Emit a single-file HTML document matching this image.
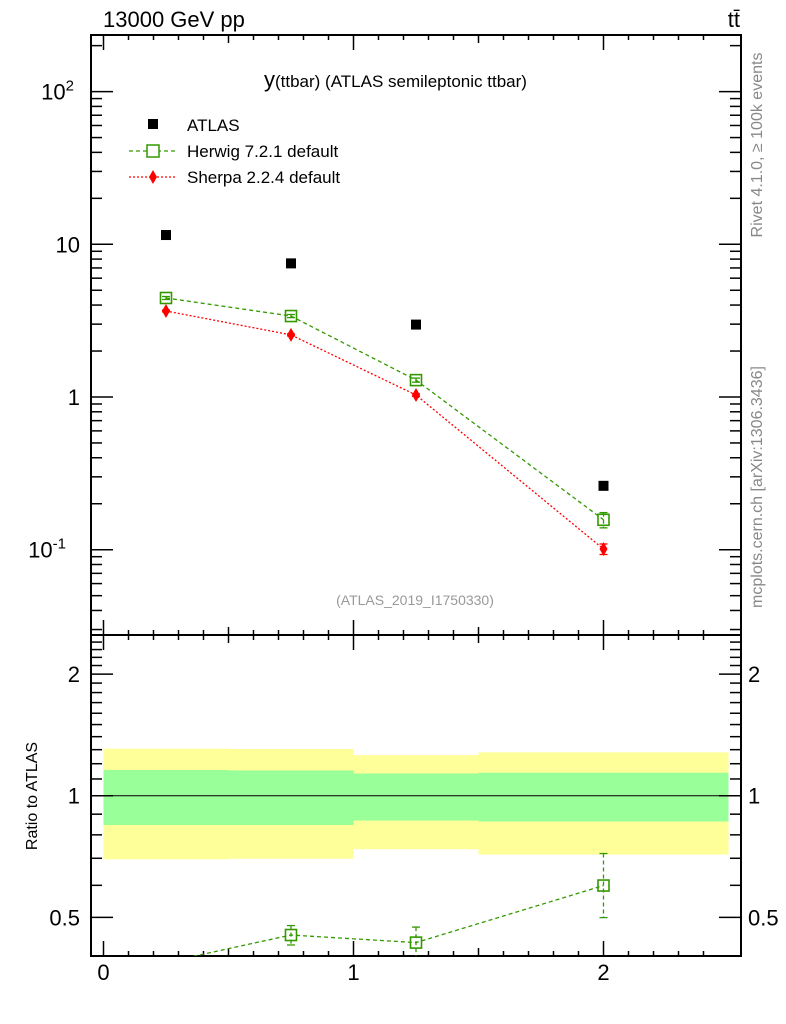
<!DOCTYPE html>
<html><head><meta charset="utf-8"><style>
body{margin:0;background:#fff;}
svg{display:block;font-family:"Liberation Sans",sans-serif;}
</style></head><body>
<svg id="chart" width="786" height="1024" viewBox="0 0 786 1024"></svg>
<script>
// ---- data ----
const binEdges = [0, 0.5, 1, 1.5, 2.5];
const binCenters = [0.25, 0.75, 1.25, 2.0];
const atlasVals = [11.5, 7.5, 2.98, 0.262];
const herwigVals = [4.45, 3.39, 1.29, 0.157];
const herwigErrUp = [0.1, 0.08, 0.04, 0.018];
const herwigErrDn = [0.1, 0.08, 0.04, 0.018];
const sherpaVals = [3.66, 2.55, 1.03, 0.101];
const sherpaErrUp = [0.05, 0.04, 0.02, 0.008];
const sherpaErrDn = [0.05, 0.04, 0.02, 0.008];
const bandYellowUp = [1.307, 1.305, 1.26, 1.28];
const bandYellowDn = [0.696, 0.698, 0.737, 0.715];
const bandGreenUp = [1.158, 1.155, 1.135, 1.14];
const bandGreenDn = [0.846, 0.846, 0.868, 0.863];
const herwigRatioErrUp = [0.03, 0.025, 0.04, 0.12];
const herwigRatioErrDn = [0.03, 0.025, 0.04, 0.1];
const mainYTicks = [0.1, 1, 10, 100];
const mainYLabels = ["10^-1", "1", "10", "10^2"];
const ratioYTicks = [0.5, 1, 2];
const ratioYLabels = ["0.5", "1", "2"];
const xTicks = [0, 1, 2];

// ---- geometry ----
const L=91, R=741, T=35, MB=635, RB=956;
const X = v => L + (v + 0.05) / 2.6 * (R - L);
const Ym = v => 397 - Math.log10(v) * 152.7;
const Yr = v => 795.7 - Math.log10(v) * 404;
const svg = document.getElementById('chart');
const NS = 'http://www.w3.org/2000/svg';
function mk(tag, attrs, parent) {
  const e = document.createElementNS(NS, tag);
  for (const k in attrs) e.setAttribute(k, attrs[k]);
  (parent || svg).appendChild(e);
  return e;
}
function txt(s, x, y, size, attrs, parent) {
  const t = mk('text', Object.assign({x: x, y: y, 'font-size': size}, attrs || {}), parent);
  t.textContent = s;
  return t;
}

// ---- ratio bands ----
const bands = mk('g', {});


for (let i = 0; i < binEdges.length - 1; i++) {
  const x0 = X(binEdges[i]), x1 = X(binEdges[i + 1]);
  const y = mk('rect', {x: x0, y: Yr(bandYellowUp[i]), width: x1 - x0, height: Yr(bandYellowDn[i]) - Yr(bandYellowUp[i]), fill: '#ffff99'}, bands);
  
  
  const g = mk('rect', {x: x0, y: Yr(bandGreenUp[i]), width: x1 - x0, height: Yr(bandGreenDn[i]) - Yr(bandGreenUp[i]), fill: '#99ff99'}, bands);
  
  
}
mk('line', {x1: L, x2: R, y1: Yr(1), y2: Yr(1), stroke: '#000', 'stroke-width': 1});

// ---- frames & ticks ----
function frame(top, bot, yfun, majors, minors, name) {
  const g = mk('g', {});
  
  
  mk('rect', {x: L, y: top, width: R - L, height: bot - top, fill: 'none', stroke: '#000', 'stroke-width': 2}, g);
  for (let v = 0; v <= 2.5; v += 0.1) {
    const vv = Math.round(v * 10) / 10;
    const maj = Math.abs(vv - Math.round(vv)) < 1e-6;
    const len = maj ? 15 : (Math.abs(vv * 2 - Math.round(vv * 2)) < 1e-6 ? 8 : 5);
    const x = X(vv);
    mk('line', {x1: x, x2: x, y1: bot, y2: bot - len, stroke: '#000', 'stroke-width': 1.5}, g);
    mk('line', {x1: x, x2: x, y1: top, y2: top + len, stroke: '#000', 'stroke-width': 1.5}, g);
  }
  majors.forEach(v => { const y = yfun(v); if (y < top || y > bot) return;
    mk('line', {x1: L, x2: L + 22, y1: y, y2: y, stroke: '#000', 'stroke-width': 1.5}, g);
    mk('line', {x1: R, x2: R - 22, y1: y, y2: y, stroke: '#000', 'stroke-width': 1.5}, g); });
  minors.forEach(v => { const y = yfun(v); if (y < top + 1 || y > bot - 1) return;
    mk('line', {x1: L, x2: L + 11, y1: y, y2: y, stroke: '#000', 'stroke-width': 1.5}, g);
    mk('line', {x1: R, x2: R - 11, y1: y, y2: y, stroke: '#000', 'stroke-width': 1.5}, g); });
}
const mainMinors = [];
[0.01, 0.1, 1, 10, 100].forEach(d => { for (let k = 2; k <= 9; k++) mainMinors.push(d * k); });
frame(T, MB, Ym, mainYTicks, mainMinors, 'main-plot-frame');
const ratioMinors = [0.4, 0.6, 0.7, 0.8, 0.9, 1.1, 1.2, 1.3, 1.4, 1.5, 1.6, 1.7, 1.8, 1.9, 2.1, 2.2, 2.3, 2.4];
frame(MB, RB, Yr, ratioYTicks, ratioMinors, 'ratio-plot-frame');

// ---- axis labels ----
mainYTicks.forEach((v, i) => {
  const lab = mainYLabels[i];
  const y = Ym(v) + 8;
  let t;
  if (lab.indexOf('^') > 0) {
    const [b, e] = lab.split('^');
    t = txt(b, 74, y, 22, {'text-anchor': 'end'});
    const s = mk('tspan', {dy: -9, 'font-size': 15}, t); s.textContent = e;
    t.setAttribute('x', 82 - e.length * 8);
  } else t = txt(lab, 80, y, 22, {'text-anchor': 'end'});
  
  
});
ratioYTicks.forEach((v, i) => {
  const t1 = txt(ratioYLabels[i], 80, Yr(v) + 8, 22, {'text-anchor': 'end'});
  
  
  const t2 = txt(ratioYLabels[i], 748, Yr(v) + 8, 22, {});
  
  
});
xTicks.forEach(v => {
  const t = txt(String(v), X(v), 980, 22, {'text-anchor': 'middle'});
  
  
});
const rt = txt('Ratio to ATLAS', 0, 0, 16, {transform: 'translate(37,796) rotate(-90)', 'text-anchor': 'middle'});



// ---- titles ----
const t1 = txt('13000 GeV pp', 103, 27, 22, {});  
const t2 = txt('tt̄', 740, 27, 22, {'text-anchor': 'end'});  
const pt = txt('y', 264, 87, 22, {});  
const ps = mk('tspan', {'font-size': 17}, pt); ps.textContent = '(ttbar) (ATLAS semileptonic ttbar)';
const an = txt('(ATLAS_2019_I1750330)', 415, 605, 14, {'text-anchor': 'middle', fill: '#999'});  
const rv = txt('Rivet 4.1.0, ≥ 100k events', 0, 0, 16, {transform: 'translate(762,145) rotate(-90)', 'text-anchor': 'middle', fill: '#888'});  
const mc = txt('mcplots.cern.ch [arXiv:1306.3436]', 0, 0, 16, {transform: 'translate(762,487) rotate(-90)', 'text-anchor': 'middle', fill: '#888'});  

// ---- legend ----
const lg = mk('g', {});  
mk('rect', {x: 148, y: 119, width: 10, height: 10, fill: '#000'}, lg);
txt('ATLAS', 187, 131, 17, {}, lg);
mk('line', {x1: 129, x2: 175, y1: 151, y2: 151, stroke: '#339900', 'stroke-dasharray': '4,3', 'stroke-width': 1.3}, lg);
mk('rect', {x: 147, y: 145, width: 12, height: 12, fill: '#fff', stroke: '#339900', 'stroke-width': 1.5}, lg);
txt('Herwig 7.2.1 default', 187, 157, 17, {}, lg);
mk('line', {x1: 129, x2: 175, y1: 177, y2: 177, stroke: '#ff0000', 'stroke-dasharray': '2,2', 'stroke-width': 1.3}, lg);
mk('path', {d: 'M153 170 L157 177 L153 184 L149 177 Z', fill: '#ff0000'}, lg);
txt('Sherpa 2.2.4 default', 187, 183, 17, {}, lg);

// ---- main series ----
function series(vals, up, dn, yfun, color, dash, marker, name, clipTop, clipBot) {
  const g = mk('g', {});
  
  
  const pts = binCenters.map((c, i) => [X(c), yfun(vals[i])]);
  const cp = mk('clipPath', {id: 'c' + name}, svg);
  mk('rect', {x: L, y: clipTop, width: R - L, height: clipBot - clipTop}, cp);
  g.setAttribute('clip-path', 'url(#c' + name + ')');
  mk('polyline', {points: pts.map(p => p.join(',')).join(' '), fill: 'none', stroke: color, 'stroke-dasharray': dash, 'stroke-width': 1.3}, g);
  pts.forEach((p, i) => {
    if (p[1] > clipBot || p[1] < clipTop) return;
    const yu = yfun(vals[i] + up[i]), yd = yfun(vals[i] - dn[i]);
    mk('line', {x1: p[0], x2: p[0], y1: yu, y2: yd, stroke: color, 'stroke-width': 1.3, 'stroke-dasharray': dash}, g);
    mk('line', {x1: p[0] - 4, x2: p[0] + 4, y1: yu, y2: yu, stroke: color, 'stroke-width': 1.3}, g);
    mk('line', {x1: p[0] - 4, x2: p[0] + 4, y1: yd, y2: yd, stroke: color, 'stroke-width': 1.3}, g);
    let m;
    if (marker === 'sq') m = mk('rect', {x: p[0] - 5.5, y: p[1] - 5.5, width: 11, height: 11, fill: 'none', stroke: color, 'stroke-width': 1.6}, g);
    else m = mk('path', {d: `M${p[0]} ${p[1] - 7} L${p[0] + 4} ${p[1]} L${p[0]} ${p[1] + 7} L${p[0] - 4} ${p[1]} Z`, fill: color}, g);
    
    
  });
}
series(herwigVals, herwigErrUp, herwigErrDn, Ym, '#339900', '4,3', 'sq', 'herwig-series', T, MB);
series(sherpaVals, sherpaErrUp, sherpaErrDn, Ym, '#ff0000', '2,2', 'dia', 'sherpa-series', T, MB);
const ag = mk('g', {});  
binCenters.forEach((c, i) => {
  const r = mk('rect', {x: X(c) - 5, y: Ym(atlasVals[i]) - 5, width: 10, height: 10, fill: '#000'}, ag);
  
  
});

// ---- ratio series ----
const herwigRatio = herwigVals.map((v, i) => v / atlasVals[i]);
series(herwigRatio, herwigRatioErrUp, herwigRatioErrDn, Yr, '#339900', '4,3', 'sq', 'herwig-ratio-series', MB, RB);
const sherpaRatio = sherpaVals.map((v, i) => v / atlasVals[i]);
series(sherpaRatio, [0,0,0,0], [0,0,0,0], Yr, '#ff0000', '2,2', 'dia', 'sherpa-ratio-series', MB, RB);
</script>
</body></html>
